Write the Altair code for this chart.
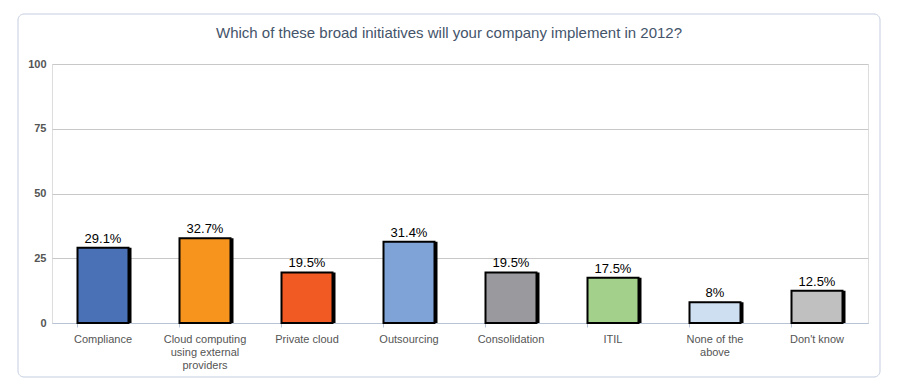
import altair as alt
import pandas as pd

categories = ["Compliance", "Cloud computing|using external|providers", "Private cloud",
              "Outsourcing", "Consolidation", "ITIL", "None of the|above", "Don't know"]
values = [29.1, 32.7, 19.5, 31.4, 19.5, 17.5, 8, 12.5]
labels = ["29.1%", "32.7%", "19.5%", "31.4%", "19.5%", "17.5%", "8%", "12.5%"]
colors = ["#4a71b5", "#f7941e", "#f15a22", "#7fa3d6", "#9a999e", "#a3d08a", "#cfdff2", "#c0c0c0"]
y_ticks = [0, 25, 50, 75, 100]
title_text = ["Which of these broad initiatives will your company implement in 2012?"]

df = pd.DataFrame({"cat": categories, "val": values, "lab": labels, "col": colors})

FONT = "Liberation Sans"

x_enc = alt.X("cat:N", sort=categories,
              scale=alt.Scale(paddingInner=0.5, paddingOuter=0.25),
              axis=alt.Axis(title=None, labelAngle=0, labelExpr="split(datum.label, '|')",
                            labelFont=FONT, labelFontSize=11, labelColor="#555555",
                            labelPadding=6, domainColor="#b8c4d6", tickColor="#b8c4d6",
                            tickSize=4, bandPosition=0, grid=False, labelLineHeight=13))
y_enc = alt.Y("val:Q", scale=alt.Scale(domain=[0, 100]),
              axis=alt.Axis(title=None, values=y_ticks, labelFont=FONT, labelFontSize=11,
                            labelFontWeight="bold", labelColor="#555555", domain=False,
                            ticks=False, labelPadding=6, gridColor="#c8c8c8"))

base = alt.Chart(df)

frame = alt.Chart(pd.DataFrame({"a": [0]})).mark_rect(
    fill=None, stroke="#c3cde0", strokeWidth=1, cornerRadius=6
).encode(x=alt.value(-34), x2=alt.value(828), y=alt.value(-50), y2=alt.value(313))

title = alt.Chart(pd.DataFrame({"t": title_text})).mark_text(
    font=FONT, fontSize=15, color="#44546a", align="center", baseline="middle"
).encode(x=alt.value(397), y=alt.value(-31), text="t:N")

shadow = base.mark_bar(color="black", xOffset=3).encode(x=x_enc, y=y_enc)
bars = base.mark_bar(stroke="black", strokeWidth=2).encode(
    x=x_enc, y=y_enc, color=alt.Color("col:N", scale=None))
text = base.mark_text(dy=-9, font=FONT, fontSize=13, color="black").encode(
    x=x_enc, y=y_enc, text="lab:N")

chart = alt.layer(frame, title, shadow, bars, text).properties(
    width=816, height=259,
    autosize=alt.AutoSizeParams(type="none"),
    padding={"left": 44, "top": 56, "right": 32, "bottom": 64},
).configure_view(stroke=None).configure(background="white")

chart.save("out.html", embed_options={"renderer": "svg", "actions": False})
